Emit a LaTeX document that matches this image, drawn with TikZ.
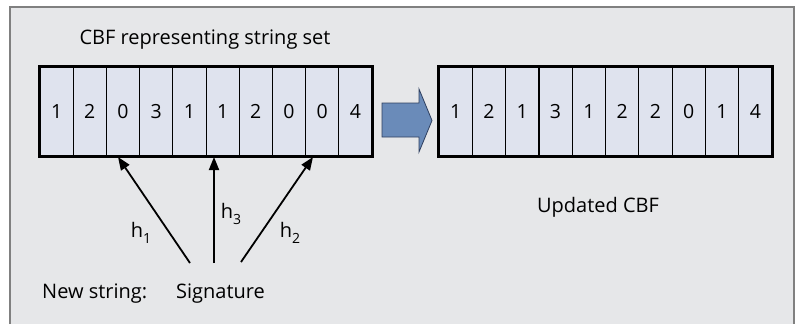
\documentclass[tikz,border=0pt]{standalone}
\usepackage{fontspec}
\setmainfont{Open Sans}
\usetikzlibrary{arrows.meta}
\definecolor{bg}{HTML}{E6E7E9}
\definecolor{cellfill}{HTML}{DFE3EE}
\definecolor{frame}{HTML}{808080}
\definecolor{blk}{HTML}{6A8BB9}
\definecolor{blkdraw}{HTML}{2F4060}
\newcommand\hsub[1]{h\raisebox{-0.5ex}{\fontsize{14}{14}\selectfont #1}}
\tikzset{
  cell/.style={draw=black, line width=0.8pt, fill=cellfill, minimum width=33.2pt, minimum height=89pt, inner sep=0pt, font=\fontsize{19.5}{19.5}\selectfont},
  lbl/.style={font=\fontsize{20}{22}\selectfont, inner sep=0pt},
  hashline/.style={line width=1.8pt, -{Triangle[length=13pt,width=10pt]}},
  outer/.style={line width=2.4pt}
}
\begin{document}
\begin{tikzpicture}[x=1pt,y=-1pt]
\useasboundingbox (0,0) rectangle (797,324);
\fill[bg] (10,7) rectangle (794,324);
\draw[frame, line width=1.4pt] (10,324) -- (10,7) -- (794,7) -- (794,324);
% left array
\foreach \v [count=\i] in {1,2,0,3,1,1,2,0,0,4} {
  \node[cell] (L\i) at ({40+33.2*(\i-0.5)},111.5) {\v};
}
\draw[outer] (L1.north west) rectangle (L10.south east);
% right array
\foreach \v [count=\i] in {1,2,1,3,1,2,2,0,1,4} {
  \node[cell] (R\i) at ({439+33.3*(\i-0.5)},111.5) {\v};
}
\draw[outer] (R1.north west) rectangle (R10.south east);
% block arrow
\draw[fill=blk, draw=blkdraw, line width=0.8pt] (382,103) -- (419,103) -- (419,89) -- (432,120.5) -- (419,152) -- (419,137) -- (382,137) -- cycle;
% texts
\node[lbl] (title) at (205,40) {CBF representing string set};
\node[lbl] (upd) at (598,207) {Updated CBF};
\node[lbl, anchor=west] (new) at (42,294) {New string:};
\node[lbl, anchor=west] (sig) at (176,294) {Signature};
% hash arrows
\coordinate (s1) at (190,263);
\coordinate (s3) at (214,263);
\coordinate (s2) at (241,262);
\coordinate (e1) at (118,157);
\coordinate (e3) at (214,157);
\coordinate (e2) at (313,157);
\draw[hashline] (s1) -- (e1);
\draw[hashline] (s3) -- (e3);
\draw[hashline] (s2) -- (e2);
\node[lbl] (h1) at (141,233) {\hsub{1}};
\node[lbl] (h3) at (231,214) {\hsub{3}};
\node[lbl] (h2) at (290,233) {\hsub{2}};
\end{tikzpicture}
\end{document}
